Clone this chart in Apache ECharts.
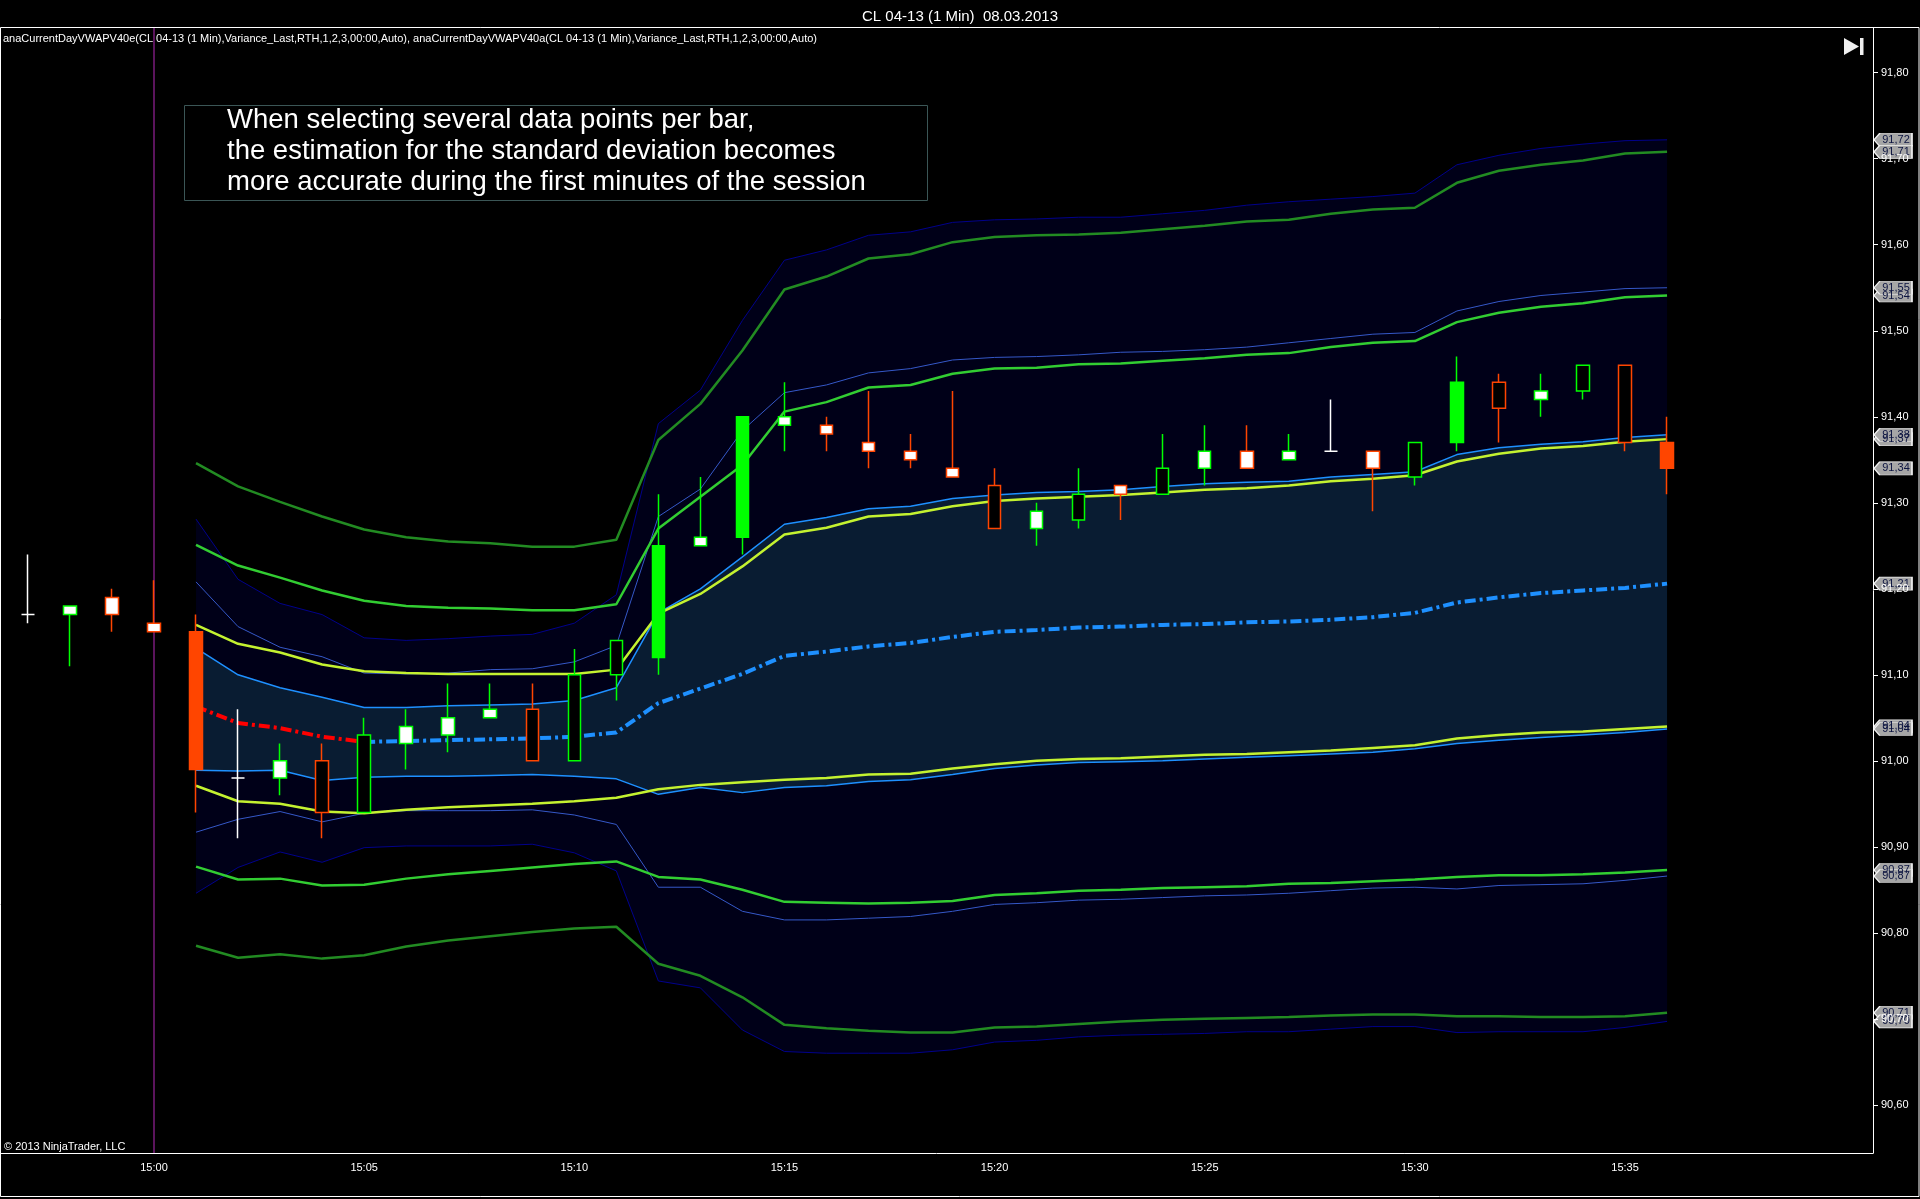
<!DOCTYPE html>
<html>
<head>
<meta charset="utf-8">
<title>CL 04-13 (1 Min) 08.03.2013</title>
<script src="https://cdn.jsdelivr.net/npm/echarts@6/dist/echarts.min.js"></script>
<style>
    html, body { margin: 0; padding: 0; background: #000; }
    #main { width: 1920px; height: 1199px; }
</style>
</head>
<body>
<div id="main"></div>
<script>
// ---- price bars, minutes after 15:00 ----
var barMinutes = [-3, -2, -1, 0, 1, 2, 3, 4, 5, 6, 7, 8, 9, 10, 11, 12, 13, 14, 15, 16,
    17, 18, 19, 20, 21, 22, 23, 24, 25, 26, 27, 28, 29, 30, 31, 32, 33, 34, 35, 36];
var barOpen = [91.17, 91.17, 91.19, 91.16, 91.15, 90.98, 90.98, 91.00, 90.94, 91.02,
    91.03, 91.05, 91.06, 91.00, 91.10, 91.12, 91.25, 91.26, 91.39, 91.39,
    91.37, 91.36, 91.34, 91.32, 91.27, 91.28, 91.32, 91.31, 91.34, 91.36,
    91.35, 91.36, 91.36, 91.33, 91.37, 91.44, 91.42, 91.43, 91.46, 91.37];
var barClose = [91.17, 91.18, 91.17, 91.15, 90.99, 90.98, 91.00, 90.94, 91.03, 91.04,
    91.05, 91.06, 91.00, 91.10, 91.14, 91.25, 91.26, 91.40, 91.40, 91.38,
    91.36, 91.35, 91.33, 91.27, 91.29, 91.31, 91.31, 91.34, 91.36, 91.34,
    91.36, 91.36, 91.34, 91.37, 91.44, 91.41, 91.43, 91.46, 91.37, 91.34];
var barLow = [91.16, 91.11, 91.15, 91.15, 90.94, 90.91, 90.96, 90.91, 90.94, 90.99,
    91.01, 91.05, 91.00, 91.00, 91.07, 91.10, 91.25, 91.24, 91.36, 91.36,
    91.34, 91.34, 91.33, 91.27, 91.25, 91.27, 91.28, 91.31, 91.32, 91.34,
    91.35, 91.36, 91.29, 91.32, 91.36, 91.37, 91.40, 91.42, 91.36, 91.31];
var barHigh = [91.24, 91.18, 91.20, 91.21, 91.17, 91.06, 91.02, 91.02, 91.05, 91.06,
    91.09, 91.09, 91.09, 91.13, 91.14, 91.31, 91.33, 91.40, 91.44, 91.40,
    91.43, 91.38, 91.43, 91.34, 91.30, 91.34, 91.32, 91.38, 91.39, 91.39,
    91.38, 91.42, 91.36, 91.37, 91.47, 91.45, 91.45, 91.46, 91.46, 91.40];
// body kind per bar: w = white body, k = hollow body, p = painted bar, x = doji
var barBody = ['x', 'w', 'w', 'w', 'p', 'x', 'w', 'k', 'k', 'w',
    'w', 'w', 'k', 'k', 'k', 'p', 'w', 'p', 'w', 'w',
    'w', 'w', 'w', 'k', 'w', 'k', 'w', 'k', 'w', 'w',
    'w', 'x', 'w', 'k', 'p', 'k', 'w', 'k', 'k', 'p'];

// ---- session VWAP and bands, 15:01 .. 15:36 ----
var bandMinutes = [1, 2, 3, 4, 5, 6, 7, 8, 9, 10, 11, 12, 13, 14, 15, 16, 17, 18,
    19, 20, 21, 22, 23, 24, 25, 26, 27, 28, 29, 30, 31, 32, 33, 34, 35, 36];
var vwap = [91.063, 91.044, 91.038, 91.028, 91.022, 91.023, 91.024, 91.025, 91.026, 91.028,
    91.033, 91.067, 91.084, 91.101, 91.122, 91.127, 91.133, 91.137, 91.144, 91.150,
    91.152, 91.155, 91.156, 91.158, 91.159, 91.161, 91.162, 91.164, 91.167, 91.172,
    91.184, 91.190, 91.195, 91.198, 91.201, 91.206];

// anaCurrentDayVWAPV40e (lines)
var sd1UpE = [91.158, 91.136, 91.126, 91.112, 91.104, 91.102, 91.101, 91.101, 91.101, 91.101,
    91.106, 91.171, 91.194, 91.226, 91.263, 91.271, 91.284, 91.287, 91.296, 91.302,
    91.305, 91.307, 91.309, 91.312, 91.315, 91.317, 91.320, 91.325, 91.328, 91.332,
    91.348, 91.357, 91.363, 91.366, 91.371, 91.374];
var sd1LoE = [90.971, 90.953, 90.950, 90.941, 90.939, 90.943, 90.946, 90.948, 90.950, 90.953,
    90.957, 90.967, 90.972, 90.975, 90.978, 90.980, 90.984, 90.985, 90.991, 90.996,
    91.000, 91.002, 91.003, 91.005, 91.007, 91.008, 91.010, 91.012, 91.015, 91.018,
    91.026, 91.030, 91.033, 91.034, 91.037, 91.040];
var sd2UpE = [91.251, 91.227, 91.213, 91.198, 91.186, 91.180, 91.178, 91.177, 91.175, 91.175,
    91.182, 91.270, 91.307, 91.344, 91.406, 91.417, 91.434, 91.437, 91.450, 91.456,
    91.457, 91.461, 91.462, 91.465, 91.468, 91.472, 91.474, 91.481, 91.486, 91.488,
    91.510, 91.521, 91.528, 91.532, 91.539, 91.541];
var sd2LoE = [90.877, 90.862, 90.863, 90.855, 90.856, 90.863, 90.868, 90.872, 90.876, 90.880,
    90.883, 90.865, 90.862, 90.850, 90.836, 90.835, 90.834, 90.835, 90.837, 90.844,
    90.846, 90.849, 90.850, 90.852, 90.853, 90.854, 90.857, 90.858, 90.860, 90.862,
    90.865, 90.867, 90.867, 90.868, 90.870, 90.873];
var sd3UpE = [91.346, 91.319, 91.301, 91.284, 91.269, 91.260, 91.255, 91.253, 91.249, 91.249,
    91.257, 91.373, 91.415, 91.477, 91.548, 91.563, 91.584, 91.589, 91.603, 91.609,
    91.611, 91.612, 91.614, 91.618, 91.622, 91.627, 91.629, 91.636, 91.641, 91.643,
    91.672, 91.686, 91.693, 91.698, 91.706, 91.708];
var sd3LoE = [90.785, 90.771, 90.775, 90.770, 90.774, 90.784, 90.791, 90.796, 90.801, 90.805,
    90.807, 90.764, 90.750, 90.725, 90.693, 90.689, 90.686, 90.684, 90.684, 90.690,
    90.691, 90.694, 90.697, 90.699, 90.700, 90.701, 90.702, 90.704, 90.705, 90.705,
    90.703, 90.703, 90.702, 90.702, 90.703, 90.707];

// anaCurrentDayVWAPV40a (filled bands)
var sd1UpA = [91.131, 91.100, 91.085, 91.074, 91.062, 91.062, 91.064, 91.065, 91.066, 91.070,
    91.085, 91.172, 91.200, 91.237, 91.275, 91.283, 91.293, 91.296, 91.305, 91.309,
    91.312, 91.313, 91.315, 91.319, 91.322, 91.324, 91.325, 91.330, 91.333, 91.336,
    91.356, 91.364, 91.368, 91.371, 91.376, 91.379];
var sd1LoA = [90.989, 90.988, 90.989, 90.977, 90.981, 90.982, 90.982, 90.983, 90.984, 90.982,
    90.979, 90.961, 90.969, 90.963, 90.969, 90.971, 90.976, 90.978, 90.984, 90.991,
    90.995, 90.998, 90.999, 91.000, 91.002, 91.004, 91.006, 91.008, 91.010, 91.014,
    91.020, 91.024, 91.027, 91.030, 91.033, 91.037];
var sd2UpA = [91.208, 91.156, 91.132, 91.121, 91.102, 91.101, 91.102, 91.106, 91.107, 91.115,
    91.134, 91.284, 91.316, 91.384, 91.428, 91.437, 91.451, 91.456, 91.466, 91.469,
    91.470, 91.472, 91.475, 91.476, 91.478, 91.481, 91.486, 91.491, 91.496, 91.498,
    91.523, 91.534, 91.541, 91.545, 91.549, 91.550];
var sd2LoA = [90.917, 90.932, 90.941, 90.929, 90.939, 90.942, 90.942, 90.942, 90.943, 90.937,
    90.926, 90.853, 90.853, 90.825, 90.815, 90.815, 90.817, 90.819, 90.825, 90.833,
    90.835, 90.838, 90.839, 90.841, 90.843, 90.844, 90.846, 90.849, 90.852, 90.853,
    90.851, 90.855, 90.856, 90.857, 90.861, 90.866];
var sd3UpA = [91.281, 91.211, 91.183, 91.170, 91.143, 91.140, 91.142, 91.145, 91.147, 91.160,
    91.193, 91.392, 91.431, 91.512, 91.582, 91.594, 91.611, 91.615, 91.626, 91.629,
    91.630, 91.632, 91.632, 91.636, 91.640, 91.646, 91.650, 91.653, 91.656, 91.660,
    91.693, 91.704, 91.712, 91.717, 91.721, 91.722];
var sd3LoA = [90.846, 90.876, 90.894, 90.882, 90.899, 90.901, 90.901, 90.901, 90.903, 90.893,
    90.872, 90.744, 90.736, 90.687, 90.662, 90.660, 90.660, 90.660, 90.664, 90.673,
    90.675, 90.679, 90.681, 90.682, 90.683, 90.685, 90.685, 90.688, 90.691, 90.691,
    90.684, 90.685, 90.685, 90.685, 90.690, 90.697];

// ---- axes ----
var timeTicks = [0, 5, 10, 15, 20, 25, 30, 35];
var priceTicks = [90.6, 90.7, 90.8, 90.9, 91.0, 91.1, 91.2, 91.3, 91.4, 91.5, 91.6, 91.7, 91.8];
var xMin = -3.664, xMax = 40.9;
var yMin = 90.544, yMax = 91.852;

var FONT = '"Liberation Sans", Arial, sans-serif';
var NAVY_FILL = '#000018';
var SLATE_FILL = '#091c32';

function pts(arr) {
    return bandMinutes.map(function (t, i) { return [t, arr[i]]; });
}
function last(arr) { return arr[arr.length - 1]; }
function price(v) { return v.toFixed(2).replace('.', ','); }

// candles
var candleData = barMinutes.map(function (t, i) {
    var up = barClose[i] >= barOpen[i];
    var edge = barBody[i] === 'x' ? '#ffffff' : (up ? '#00ff00' : '#ff4500');
    var fill = barBody[i] === 'w' ? '#ffffff' : (barBody[i] === 'p' ? edge : '#000000');
    return {
        value: [t, barOpen[i], barClose[i], barLow[i], barHigh[i]],
        itemStyle: {color: fill, color0: fill, borderColor: edge, borderColor0: edge, borderColorDoji: edge}
    };
});

// vwap coloured by slope
var vwapUp = [], vwapDown = [];
vwap.forEach(function (v, i) {
    var prev = i > 0 ? vwap[i - 1] : null;
    var next = i < vwap.length - 1 ? vwap[i + 1] : null;
    var down = (prev !== null && v < prev) || (next !== null && next < v);
    var up = (prev !== null && v >= prev) || (next !== null && next >= v);
    vwapDown.push([bandMinutes[i], down ? v : null]);
    vwapUp.push([bandMinutes[i], up ? v : null]);
});

// price markers on the axis
var tagValues = [last(sd3UpA), last(sd3UpE), last(sd2UpE), last(sd2UpA), last(sd1UpE), last(sd1UpA),
    last(barClose), last(vwap), last(sd1LoE), last(sd1LoA), last(sd2LoE), last(sd2LoA),
    last(sd3LoE), last(sd3LoA)];

// filled bands are painted top-down, each filled to the bottom of the chart
function fillTo(name, arr, color) {
    return {
        name: name, type: 'line', data: pts(arr), showSymbol: false, silent: true, z: 1,
        lineStyle: {width: 0, opacity: 0},
        areaStyle: {color: color, opacity: 1, origin: 'start'}
    };
}
function bandLine(name, arr, color, width, z) {
    return {
        name: name, type: 'line', data: pts(arr), showSymbol: false, silent: true, z: z,
        lineStyle: {color: color, width: width}
    };
}

var myChart = echarts.init(document.getElementById('main'));

var fills = [
    fillTo('SD3 upper a fill', sd3UpA, NAVY_FILL),
    fillTo('SD1 upper a fill', sd1UpA, SLATE_FILL),
    fillTo('SD1 lower a fill', sd1LoA, NAVY_FILL),
    fillTo('SD3 lower a fill', sd3LoA, '#000000')
];
// session start
fills[0].markLine = {
    silent: true, symbol: 'none', label: {show: false},
    lineStyle: {color: '#5a145c', width: 2, type: 'solid', opacity: 1},
    data: [{xAxis: 0}]
};

var option = {
    animation: false,
    backgroundColor: '#000000',
    title: {
        text: 'CL 04-13 (1 Min)  08.03.2013',
        left: 'center',
        top: 4,
        textStyle: {color: '#ffffff', fontSize: 15, fontWeight: 'normal', fontFamily: FONT}
    },
    grid: {left: 0, right: 47, top: 28, bottom: 46},
    xAxis: {
        type: 'value',
        min: xMin,
        max: xMax,
        z: 10,
        axisLine: {onZero: false, lineStyle: {color: '#ffffff', width: 1}},
        axisTick: {show: false},
        splitLine: {show: false},
        axisLabel: {
            customValues: timeTicks,
            color: '#ffffff',
            fontSize: 11,
            fontFamily: FONT,
            margin: 9,
            formatter: function (v) {
                var m = Math.round(v);
                return '15:' + (m < 10 ? '0' + m : m);
            }
        }
    },
    yAxis: {
        type: 'value',
        position: 'right',
        min: yMin,
        max: yMax,
        z: 10,
        axisLine: {show: true, onZero: false, lineStyle: {color: '#ffffff', width: 1}},
        axisTick: {show: true, customValues: priceTicks, length: 5, lineStyle: {color: '#ffffff'}},
        splitLine: {show: false},
        axisLabel: {
            customValues: priceTicks,
            color: '#ffffff',
            fontSize: 11,
            fontFamily: FONT,
            margin: 8,
            formatter: function (v) { return price(v); }
        }
    },
    series: fills.concat([
        // V40a band edges
        bandLine('SD3 upper a', sd3UpA, '#00008b', 1, 2),
        bandLine('SD3 lower a', sd3LoA, '#00008b', 1, 2),
        bandLine('SD2 upper a', sd2UpA, '#3558c8', 1, 2),
        bandLine('SD2 lower a', sd2LoA, '#3558c8', 1, 2),
        bandLine('SD1 upper a', sd1UpA, '#1e90ff', 1.5, 2),
        bandLine('SD1 lower a', sd1LoA, '#1e90ff', 1.5, 2),

        // V40e lines
        bandLine('SD3 upper e', sd3UpE, '#228b22', 2.5, 3),
        bandLine('SD3 lower e', sd3LoE, '#228b22', 2.5, 3),
        bandLine('SD2 upper e', sd2UpE, '#32cd32', 2.5, 3),
        bandLine('SD2 lower e', sd2LoE, '#32cd32', 2.5, 3),
        bandLine('SD1 upper e', sd1UpE, '#c4f230', 2.5, 3),
        bandLine('SD1 lower e', sd1LoE, '#c4f230', 2.5, 3),

        // VWAP
        {
            name: 'VWAP falling', type: 'line', data: vwapDown, showSymbol: false, silent: true, z: 4,
            lineStyle: {color: '#ff0000', width: 4, type: [11, 4, 3, 4], cap: 'butt'}
        },
        {
            name: 'VWAP rising', type: 'line', data: vwapUp, showSymbol: false, silent: true, z: 4,
            lineStyle: {color: '#1e90ff', width: 4, type: [11, 4, 3, 4], cap: 'butt'}
        },

        // price bars
        {
            name: 'CL 04-13', type: 'candlestick', data: candleData, z: 5,
            encode: {x: 0, y: [1, 2, 3, 4]},
            barWidth: 13,
            itemStyle: {borderWidth: 1.5}
        },

        // last value markers
        {
            name: 'tags', type: 'scatter', z: 6, silent: true, clip: false,
            data: tagValues.map(function (v) { return [xMax, v]; }),
            symbol: 'path://M0,6.5 L6,0 L40,0 L40,13 L6,13 Z',
            symbolSize: [38, 13],
            symbolKeepAspect: false,
            symbolOffset: [20, 0],
            itemStyle: {color: '#a6a6a6', borderColor: '#f0f0f0', borderWidth: 1, opacity: 1},
            label: {
                show: true, position: 'inside', offset: [3, 0],
                color: '#0c1440', fontSize: 11, fontFamily: FONT,
                formatter: function (p) { return price(p.value[1]); }
            }
        }
    ]),
    graphic: [
        // window frame and header rule
        {
            type: 'rect', silent: true, z: 100,
            shape: {x: 0.5, y: 27.5, width: 1918.5, height: 1169},
            style: {fill: 'none', stroke: '#ffffff', lineWidth: 1}
        },
        {
            type: 'text', silent: true, z: 100,
            style: {
                x: 3, y: 39, verticalAlign: 'middle', fill: '#ffffff', font: '11px ' + FONT,
                text: 'anaCurrentDayVWAPV40e(CL 04-13 (1 Min),Variance_Last,RTH,1,2,3,00:00,Auto), ' +
                    'anaCurrentDayVWAPV40a(CL 04-13 (1 Min),Variance_Last,RTH,1,2,3,00:00,Auto)'
            }
        },
        {
            type: 'text', silent: true, z: 100,
            style: {x: 4, y: 1147, verticalAlign: 'middle', fill: '#ffffff', font: '11px ' + FONT,
                text: '\u00a9 2013 NinjaTrader, LLC'}
        },
        // "go to last bar" button
        {
            type: 'polygon', silent: true, z: 100,
            shape: {points: [[1844, 38], [1859, 46.5], [1844, 55]]},
            style: {fill: '#f0f0f0'}
        },
        {
            type: 'rect', silent: true, z: 100,
            shape: {x: 1860, y: 38, width: 3.5, height: 17},
            style: {fill: '#f0f0f0'}
        },
        // annotation box
        {
            type: 'rect', silent: true, z: 100,
            shape: {x: 184.5, y: 105.5, width: 743, height: 95},
            style: {fill: '#000000', stroke: '#3b5656', lineWidth: 1}
        },
        {
            type: 'text', silent: true, z: 101,
            style: {
                x: 227, y: 105, verticalAlign: 'top', fill: '#ffffff',
                font: '27.5px ' + FONT, lineHeight: 31,
                text: 'When selecting several data points per bar,\n' +
                    'the estimation for the standard deviation becomes\n' +
                    'more accurate during the first minutes of the session'
            }
        }
    ]
};

myChart.setOption(option);
</script>
</body>
</html>
